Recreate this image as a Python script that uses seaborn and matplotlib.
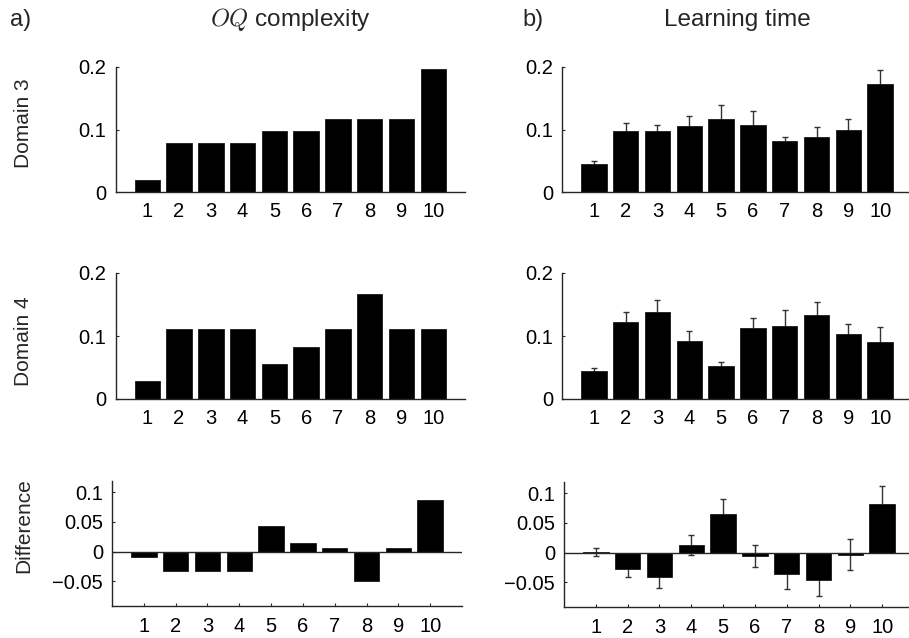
import numpy as np
import pandas as pd
import matplotlib
matplotlib.use("Agg")
import matplotlib.pyplot as plt
import seaborn as sns

# ---------------- data ----------------
categories = [1, 2, 3, 4, 5, 6, 7, 8, 9, 10]

oq_domain3 = [0.0196, 0.0784, 0.0784, 0.0784, 0.098, 0.098, 0.1176, 0.1176, 0.1176, 0.197]
oq_domain4 = [0.0278, 0.1111, 0.1111, 0.1111, 0.0556, 0.0833, 0.1111, 0.1667, 0.1111, 0.1111]
oq_diff = [-0.0085, -0.0330, -0.0330, -0.0330, 0.0425, 0.0150, 0.0065, -0.0490, 0.0065, 0.0860]

lt_domain3 = [0.0453, 0.097, 0.097, 0.105, 0.117, 0.108, 0.081, 0.0885, 0.0997, 0.173]
lt_domain3_err = [0.005, 0.014, 0.010, 0.017, 0.022, 0.021, 0.007, 0.0155, 0.017, 0.022]
lt_domain4 = [0.0446, 0.1225, 0.138, 0.0928, 0.0525, 0.1125, 0.1156, 0.1326, 0.103, 0.0907]
lt_domain4_err = [0.0053, 0.016, 0.0196, 0.015, 0.006, 0.0165, 0.025, 0.021, 0.016, 0.023]
lt_diff = [0.0005, -0.0272, -0.0417, 0.0128, 0.0644, -0.0056, -0.0367, -0.0456, -0.0039, 0.0817]
lt_diff_err = [0.007, 0.0145, 0.018, 0.017, 0.026, 0.019, 0.024, 0.028, 0.026, 0.030]

row_labels = ["Domain 3", "Domain 4", "Difference"]
col_titles = [r"$OQ$ complexity", "Learning time"]
panel_tags = ["a)", "b)"]

top_yticks = [0, 0.1, 0.2]
top_yticklabels = ["0", "0.1", "0.2"]
diff_yticks = [-0.05, 0, 0.05, 0.1]
diff_yticklabels = ["\u22120.05", "0", "0.05", "0.1"]

# ---------------- style ----------------
sns.set_theme(style="white")
plt.rcParams["font.family"] = ["Liberation Sans", "DejaVu Sans"]
plt.rcParams["mathtext.fontset"] = "cm"
AX_COLOR = "#262626"

W, H = 909, 638
fig = plt.figure(figsize=(W / 100, H / 100), dpi=100)


def add_ax(left, right, top, bottom):
    return fig.add_axes([left / W, 1 - bottom / H, (right - left) / W, (bottom - top) / H])


# pixel boxes (left, right, top, bottom)
boxes = {
    (0, 0): (115.5, 465, 67, 192),
    (1, 0): (115.5, 465, 273, 399),
    (2, 0): (112, 462, 481, 605.5),
    (0, 1): (562, 912, 67, 192),
    (1, 1): (562, 912, 273, 399),
    (2, 1): (564, 914, 482, 606.5),
}

values = {
    (0, 0): (oq_domain3, None),
    (1, 0): (oq_domain4, None),
    (2, 0): (oq_diff, None),
    (0, 1): (lt_domain3, lt_domain3_err),
    (1, 1): (lt_domain4, lt_domain4_err),
    (2, 1): (lt_diff, lt_diff_err),
}

label_y_px = {0: 123, 1: 341, 2: 526}

for (r, c), box in boxes.items():
    ax = add_ax(*box)
    vals, errs = values[(r, c)]
    df = pd.DataFrame({"cat": categories, "val": vals})
    sns.barplot(data=df, x="cat", y="val", native_scale=True, color="black",
                saturation=1, width=0.8, edgecolor="#1a1a1a", linewidth=0.6,
                errorbar=None, ax=ax, zorder=2)
    if errs is not None:
        ax.errorbar(categories, vals, yerr=errs, fmt="none", ecolor="#333333",
                    elinewidth=1.0, capsize=2.3, capthick=1.0, zorder=1)
    ax.set_xlim(0, 11)
    ax.set_xticks(categories)
    ax.set_xticklabels([str(v) for v in categories])
    if r < 2:
        ax.set_ylim(0, 0.2)
        ax.set_yticks(top_yticks)
        ax.set_yticklabels(top_yticklabels)
        xpad = 7.0
    else:
        ax.set_ylim(-0.0905, 0.1185)
        ax.set_yticks(diff_yticks)
        ax.set_yticklabels(diff_yticklabels)
        ax.axhline(0, color=AX_COLOR, lw=1.0, zorder=4)
        xpad = 8.3
    ax.set_xlabel("")
    ax.set_ylabel("")
    for s in ["top", "right"]:
        ax.spines[s].set_visible(False)
    for s in ["left", "bottom"]:
        ax.spines[s].set_color(AX_COLOR)
        ax.spines[s].set_linewidth(1.0)
        ax.spines[s].set_zorder(5)
    ax.tick_params(axis="x", direction="in", length=2.5, width=0.8, colors=AX_COLOR,
                   labelcolor="black", labelsize=14.5, pad=xpad, bottom=True)
    ax.tick_params(axis="y", direction="in", length=2.5, width=0.8, colors=AX_COLOR,
                   labelcolor="black", labelsize=14.5, pad=6.5, left=True)
    ax.set_axisbelow(True)
    ax.set_facecolor("white")
    if c == 0:
        ax.set_ylabel(row_labels[r], fontsize=15)
        ax.yaxis.label.set_va("center")
        ax.yaxis.label.set_ha("center")
        ax.yaxis.set_label_coords(24 / W, 1 - label_y_px[r] / H, transform=fig.transFigure)
    if r == 0:
        ax.set_title(col_titles[c], fontsize=17.5, pad=29.5)

fig.text(10 / W, 1 - 26 / H, panel_tags[0], fontsize=17, va="baseline", ha="left")
fig.text(522 / W, 1 - 26 / H, panel_tags[1], fontsize=17, va="baseline", ha="left")

fig.savefig("out.png", dpi=100, facecolor="white")
